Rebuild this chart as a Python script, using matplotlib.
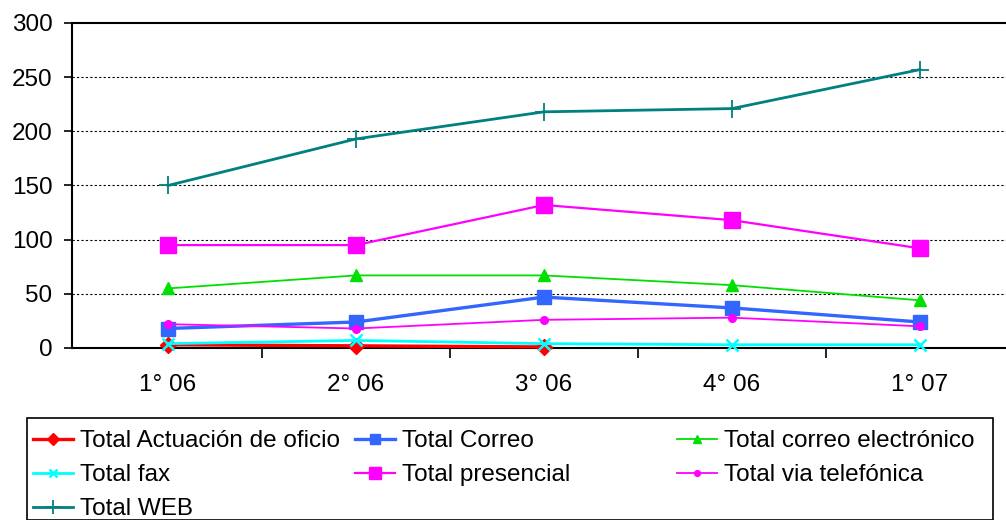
import matplotlib
matplotlib.use("Agg")
import matplotlib.pyplot as plt
from matplotlib.lines import Line2D
from matplotlib.patches import Rectangle

plt.rcParams['font.family'] = ['Liberation Sans', 'DejaVu Sans']

categories = ["1° 06", "2° 06", "3° 06", "4° 06", "1° 07"]
actuacion = [3, 2, 1]
correo = [18, 24, 47, 37, 24]
correo_elec = [55, 67, 67, 58, 44]
fax = [4, 7, 4, 3, 3]
presencial = [95, 95, 132, 118, 92]
telefonica = [22, 18, 26, 28, 20]
web = [150, 193, 218, 221, 257]
y_ticks = [0, 50, 100, 150, 200, 250, 300]

FS = 17.5
W, H = 1006, 520
fig = plt.figure(figsize=(W / 100, H / 100), dpi=100)
left_px, top_px, bot_px = 72, 23, 348
ax = fig.add_axes([left_px / W, 1 - bot_px / H, (W - left_px) / W, (bot_px - top_px) / H])

spacing = 188.0
x0 = -96 / spacing
xr = x0 + (W - left_px) / spacing
ax.set_xlim(x0, xr)
ax.set_ylim(0, 300)

series = [
    ("Total Actuación de oficio", actuacion, "#FF0000", "D", 8, 2.4, None),
    ("Total Correo", correo, "#3366FF", "s", 10, 2.4, None),
    ("Total correo electrónico", correo_elec, "#00E000", "^", 8, 1.3, None),
    ("Total fax", fax, "#00FFFF", "x", 8, 2.0, 1.8),
    ("Total presencial", presencial, "#FF00FF", "s", 11, 1.6, None),
    ("Total via telefónica", telefonica, "#FF00FF", "o", 5.5, 1.3, None),
    ("Total WEB", web, "#008080", "+", 13, 2.0, 1.3),
]

handles = {}
for i, (label, vals, color, marker, ms, lw, mew) in enumerate(series):
    xs = list(range(len(vals)))
    kw = {}
    if mew is not None:
        kw['markeredgewidth'] = mew
    ln, = ax.plot(xs, vals, color=color, marker=marker, markersize=ms, linewidth=lw,
                  markeredgecolor=color, markerfacecolor=color, label=label,
                  zorder=3 + i, clip_on=False, **kw)
    handles[label] = ln

for y in y_ticks[1:-1]:
    ax.axhline(y, color="#000000", linestyle=(0, (2, 2)), linewidth=0.8, zorder=1)

ax.spines['right'].set_visible(False)
for s in ['left', 'bottom', 'top']:
    ax.spines[s].set_linewidth(1.5)
    ax.spines[s].set_color('black')

ax.set_yticks(y_ticks)
ax.set_yticklabels([str(v) for v in y_ticks], fontsize=FS)
ax.tick_params(axis='y', direction='out', length=6, width=1.2, pad=8)

ax.set_xticks(range(len(categories)))
ax.set_xticklabels(categories, fontsize=FS)
ax.tick_params(axis='x', which='major', length=0, pad=19)
ax.set_xticks([0.5, 1.5, 2.5, 3.5], minor=True)
ax.tick_params(axis='x', which='minor', direction='out', length=7, width=1.2)

lx0, ly0 = 27, 418
rect = Rectangle((lx0 / W, 0), (993 - lx0) / W, 1 - ly0 / H, transform=fig.transFigure,
                 fill=False, edgecolor='black', linewidth=1.2, clip_on=False)
fig.add_artist(rect)

cols = [
    ["Total Actuación de oficio", "Total fax", "Total WEB"],
    ["Total Correo", "Total presencial"],
    ["Total correo electrónico", "Total via telefónica"],
]
col_x = [33, 355, 677]
for cx, labs in zip(col_x, cols):
    leg_handles = []
    for l in labs:
        h = handles[l]
        leg_handles.append(Line2D([0], [0], color=h.get_color(), marker=h.get_marker(),
                                  markersize=h.get_markersize() * 0.75, linewidth=h.get_linewidth(),
                                  markeredgewidth=h.get_markeredgewidth(),
                                  markerfacecolor=h.get_color(), markeredgecolor=h.get_color()))
    fig.legend(leg_handles, labs, loc='upper left',
               bbox_to_anchor=(cx / W, 1 - 430 / H), bbox_transform=fig.transFigure,
               frameon=False, fontsize=FS, handlelength=1.65, handletextpad=0.3,
               labelspacing=0.5, borderpad=0, borderaxespad=0, numpoints=1)

fig.savefig("out.png", dpi=100)
